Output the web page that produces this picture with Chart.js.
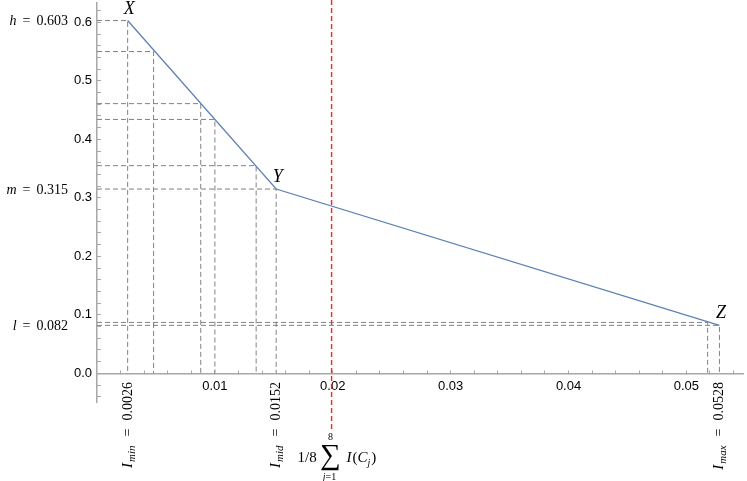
<!DOCTYPE html>
<html>
<head>
<meta charset="utf-8">
<script src="https://cdn.jsdelivr.net/npm/chart.js@4.4.1/dist/chart.umd.min.js"></script>
<style>
  html, body { margin: 0; padding: 0; background: #fff; }
  canvas { display: block; }
</style>
</head>
<body>
<canvas id="chart" width="747" height="481"></canvas>
<script>
// eight sample points C_j on the curve (x = I(C_j))
const sampleX = [0.0026, 0.0048, 0.0088, 0.0100, 0.0135, 0.0152, 0.0518, 0.0528];
const sampleY = [0.603, 0.550, 0.461, 0.434, 0.355, 0.315, 0.087, 0.082];

// corners of the polyline
const cornerNames = ['X', 'Y', 'Z'];
const cornerX = [0.0026, 0.0152, 0.0528];
const cornerY = [0.603, 0.315, 0.082];

// level labels on the left
const levelNames = ['h', 'm', 'l'];
const levelValues = [0.603, 0.315, 0.082];
const levelText = ['0.603', '0.315', '0.082'];

// bound labels under the x axis
const boundSubs = ['min', 'mid', 'max'];
const boundValues = [0.0026, 0.0152, 0.0528];
const boundText = ['0.0026', '0.0152', '0.0528'];

// mean 1/8 * sum I(C_j), drawn as red dashed line
const meanX = 0.0199;
const meanSpan = [0.638, -0.1];

// tick labels
const xMajorTicks = [0.01, 0.02, 0.03, 0.04, 0.05];
const yMajorTicks = [0.0, 0.1, 0.2, 0.3, 0.4, 0.5, 0.6];

const serif = '"Liberation Serif", "Times New Roman", serif';

const isMajor = (v, list) => list.some(t => Math.abs(t - v) < 1e-9);

const dropData = [];
sampleX.forEach((sx, i) => {
  dropData.push({ x: 0, y: sampleY[i] }, { x: sx, y: sampleY[i] }, { x: sx, y: 0 }, { x: sx, y: null });
});

const curveData = cornerX.map((cx, i) => ({ x: cx, y: cornerY[i] }));
const meanData = meanSpan.map(v => ({ x: meanX, y: v }));

const annotate = {
  id: 'annotate',
  afterDatasetsDraw(chart) {
    const { ctx, scales: { x, y } } = chart;
    ctx.save();
    ctx.fillStyle = '#000';
    ctx.textBaseline = 'alphabetic';

    // X, Y, Z
    ctx.font = 'italic 18px ' + serif;
    ctx.textAlign = 'center';
    cornerNames.forEach((n, i) => {
      ctx.fillText(n, x.getPixelForValue(cornerX[i]) + 1.5, y.getPixelForValue(cornerY[i]) - 7);
    });

    // h = 0.603 etc
    const gap = 6;
    levelNames.forEach((n, i) => {
      const py = y.getPixelForValue(levelValues[i]) + 4.5;
      let right = 68;
      ctx.textAlign = 'right';
      ctx.font = '14px ' + serif;
      ctx.fillText(levelText[i], right, py);
      right -= ctx.measureText(levelText[i]).width + gap;
      ctx.fillText('=', right, py);
      right -= ctx.measureText('=').width + gap;
      ctx.font = 'italic 14px ' + serif;
      ctx.fillText(n, right, py);
    });

    // I_min = 0.0026 etc, rotated
    boundSubs.forEach((s, i) => {
      const px = x.getPixelForValue(boundValues[i]);
      ctx.save();
      ctx.translate(px + 4, 382);
      ctx.rotate(-Math.PI / 2);
      ctx.textAlign = 'left';
      ctx.font = '14px ' + serif;
      const wNum = ctx.measureText(boundText[i]).width;
      const wEq = ctx.measureText('=').width;
      ctx.font = 'italic 15px ' + serif;
      const wI = ctx.measureText('I').width;
      ctx.font = 'italic 11px ' + serif;
      const wSub = ctx.measureText(s).width;
      let pos = -(wI + wSub + wEq + wNum + 6 + 2 * gap);
      ctx.font = 'italic 15px ' + serif;
      ctx.fillText('I', pos, 0);
      pos += wI + 1;
      ctx.font = 'italic 11px ' + serif;
      ctx.fillText(s, pos, 3);
      pos += wSub + gap + 3;
      ctx.font = '14px ' + serif;
      ctx.fillText('=', pos, 0);
      pos += wEq + gap + 2;
      ctx.fillText(boundText[i], pos, 0);
      ctx.restore();
    });

    // 1/8 sum_{j=1}^{8} I(C_j)
    const mx = x.getPixelForValue(meanX);
    ctx.textAlign = 'left';
    ctx.font = '15px ' + serif;
    ctx.fillText('1/8', mx - 34, 462);
    ctx.textAlign = 'center';
    ctx.font = '29px ' + serif;
    ctx.fillText('\u2211', mx - 1, 464);
    ctx.font = '10px ' + serif;
    ctx.fillText('8', mx - 1, 440);
    ctx.font = 'italic 10px ' + serif;
    ctx.textAlign = 'right';
    ctx.fillText('j', mx - 6, 480);
    ctx.font = '10px ' + serif;
    ctx.textAlign = 'left';
    ctx.fillText('=1', mx - 6, 480);
    ctx.font = 'italic 15px ' + serif;
    let tx = mx + 15;
    ctx.fillText('I', tx, 462);
    tx += ctx.measureText('I').width + 1;
    ctx.font = '15px ' + serif;
    ctx.fillText('(', tx, 462);
    tx += ctx.measureText('(').width;
    ctx.font = 'italic 15px ' + serif;
    ctx.fillText('C', tx, 462);
    tx += ctx.measureText('C').width;
    ctx.font = 'italic 10px ' + serif;
    ctx.fillText('j', tx, 466);
    tx += ctx.measureText('j').width + 1;
    ctx.font = '15px ' + serif;
    ctx.fillText(')', tx, 462);

    ctx.restore();
  }
};

const axisColor = '#a8a8a8';

const noPadding = (scale) => {
  scale.paddingTop = 0;
  scale.paddingBottom = 0;
  scale.paddingLeft = 0;
  scale.paddingRight = 0;
};

new Chart(document.getElementById('chart'), {
  type: 'line',
  data: {
    datasets: [
      {
        data: curveData,
        borderColor: '#5e81b5',
        borderWidth: 1.3,
        pointRadius: 0,
        fill: false
      },
      {
        data: dropData,
        borderColor: '#808080',
        borderWidth: 1,
        borderDash: [5, 3],
        pointRadius: 0,
        spanGaps: false,
        fill: false
      },
      {
        data: meanData,
        borderColor: '#ff2020',
        borderWidth: 1.4,
        borderDash: [5, 3],
        pointRadius: 0,
        clip: false,
        fill: false
      }
    ]
  },
  options: {
    responsive: false,
    animation: false,
    devicePixelRatio: 1,
    layout: { padding: { left: 0, right: 4, top: 3, bottom: 79 } },
    plugins: {
      legend: { display: false },
      tooltip: { enabled: false }
    },
    scales: {
      x: {
        type: 'linear',
        position: { y: 0 },
        min: 0,
        max: 0.0548,
        afterFit: noPadding,
        afterBuildTicks: (scale) => {
          const t = [];
          for (let k = 1; k <= 27; k++) t.push({ value: k * 0.002 });
          scale.ticks = t;
        },
        ticks: {
          autoSkip: false,
          maxRotation: 0,
          minRotation: 0,
          padding: 9,
          color: '#000',
          font: { family: '"Liberation Sans", Arial, sans-serif', size: 13 },
          callback: (v) => isMajor(v, xMajorTicks) ? v.toFixed(2) : ''
        },
        grid: {
          drawOnChartArea: false,
          drawTicks: true,
          tickLength: -4,
          tickColor: axisColor,
          tickWidth: 1
        },
        border: { display: true, color: axisColor, width: 1.5 }
      },
      y: {
        type: 'linear',
        position: 'left',
        min: -0.049,
        max: 0.633,
        afterFit: (scale) => { scale.width = 97; noPadding(scale); },
        afterBuildTicks: (scale) => {
          const t = [];
          for (let k = -2; k <= 31; k++) t.push({ value: k * 0.02 });
          scale.ticks = t;
        },
        ticks: {
          autoSkip: false,
          padding: 9,
          color: '#000',
          font: { family: '"Liberation Sans", Arial, sans-serif', size: 13 },
          callback: (v) => isMajor(v, yMajorTicks) ? v.toFixed(1) : ''
        },
        grid: {
          drawOnChartArea: false,
          drawTicks: true,
          tickLength: -4,
          tickColor: axisColor,
          tickWidth: 1
        },
        border: { display: true, color: axisColor, width: 1.5 }
      }
    }
  },
  plugins: [annotate]
});
</script>
</body>
</html>
